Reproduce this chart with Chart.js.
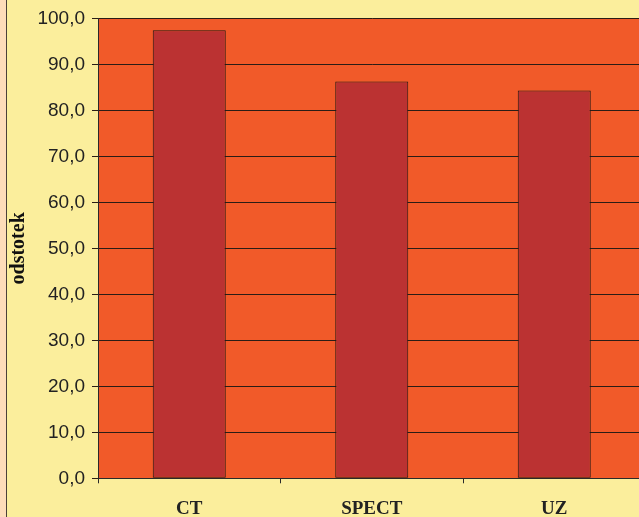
<!DOCTYPE html>
<html>
<head>
<meta charset="utf-8">
<script src="https://cdn.jsdelivr.net/npm/chart.js@4"></script>
<style>
  html, body { margin: 0; padding: 0; overflow: hidden; background: #fddcb9; }
  #okvir {
    position: absolute; left: 6px; top: 0;
    width: 700px; height: 517px;
    border-left: 1px solid #4a4038;
    background: #fbee9c;
  }
  #graf { display: block; }
</style>
</head>
<body>
<div id="okvir">
  <canvas id="graf" width="660" height="517"></canvas>
</div>
<script>
// Podatki grafa
const kategorije = ['CT', 'SPECT', 'UZ'];
const odstotki = [97.4, 86.3, 84.3];
const oznakeY = [0, 10, 20, 30, 40, 50, 60, 70, 80, 90, 100];

// Pobarva ozadje risalne površine
const ozadjePodrocja = {
  id: 'ozadjePodrocja',
  beforeDraw(chart) {
    const { ctx, chartArea: a } = chart;
    ctx.save();
    ctx.fillStyle = '#f15a29';
    ctx.fillRect(a.left, a.top, a.right - a.left, a.bottom - a.top);
    ctx.restore();
  }
};

const ctx = document.getElementById('graf').getContext('2d');
new Chart(ctx, {
  type: 'bar',
  data: {
    labels: kategorije,
    datasets: [{
      label: 'odstotek',
      data: odstotki,
      backgroundColor: '#bb3232',
      borderColor: '#221814',
      borderWidth: 1,
      borderSkipped: false,
      barPercentage: 0.4,
      categoryPercentage: 1
    }]
  },
  options: {
    responsive: false,
    animation: false,
    layout: { padding: { top: 18, right: 21.5, left: 0, bottom: 0 } },
    plugins: {
      legend: { display: false },
      tooltip: { enabled: false }
    },
    scales: {
      x: {
        offset: true,
        grid: {
          offset: true,
          drawOnChartArea: false,
          drawTicks: true,
          tickLength: 5,
          color: '#2a2a2a'
        },
        border: { display: true, color: '#2a2a2a', width: 1 },
        ticks: {
          padding: 14,
          color: '#222',
          font: { family: '"Liberation Serif", "Times New Roman", serif', size: 19, weight: 'bold' }
        },
        afterFit(scale) { scale.height = 38.7; }
      },
      y: {
        min: 0,
        max: 100,
        afterBuildTicks(scale) { scale.ticks = oznakeY.map(v => ({ value: v })); },
        grid: {
          color: '#2a1d16',
          lineWidth: 1,
          tickLength: 6
        },
        border: { display: true, color: '#2a2a2a', width: 1 },
        ticks: {
          padding: 7,
          color: '#222',
          font: { family: '"Liberation Sans", Arial, sans-serif', size: 19 },
          callback: v => v.toFixed(1).replace('.', ',')
        },
        title: {
          display: true,
          text: 'odstotek',
          color: '#111',
          padding: { top: 1, bottom: 0 },
          font: { family: '"Liberation Serif", "Times New Roman", serif', size: 20, weight: 'bold', lineHeight: 1.1 }
        },
        afterFit(scale) { scale.width = 91; }
      }
    }
  },
  plugins: [ozadjePodrocja]
});
</script>
</body>
</html>
